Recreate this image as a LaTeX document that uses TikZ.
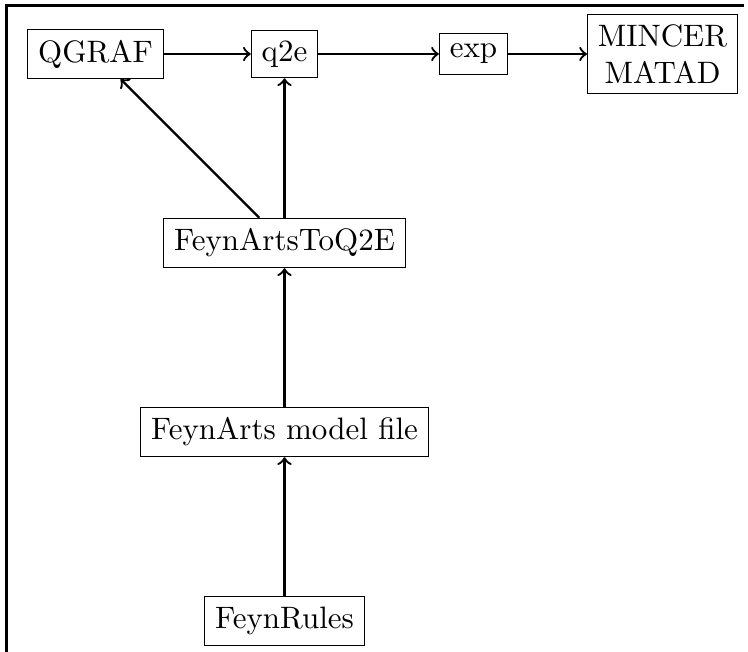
\documentclass[tikz,border=0pt]{standalone}
\usepackage{amsmath}
\usepackage{tikz}
\usetikzlibrary{arrows,positioning}

\begin{document}
\begin{tikzpicture}[->, auto, thick, node distance=2.143cm]
\tikzstyle{every node}=[draw=black,line width=0.4pt,text=black,fill=white]
\tikzstyle{every edge}=[draw,line width=0.75pt]
\useasboundingbox (0,0) rectangle (8.481,-7.392);
\draw[-,line width=1pt] (0.074,-7.5) -- (0.074,-0.062) -- (8.435,-0.062);
\node (Q)    at (1.083,-0.612) {QGRAF};
\node (Q2E)  [right of=Q]      {q2e};
\node (EXP)  [right of=Q2E]    {exp};
\node (MM)   [right of=EXP,align=center] {MINCER\\MATAD};
\node (FA2Q) [below of=Q2E]    {FeynArtsToQ2E};
\node (FAM)  [below of=FA2Q]   {FeynArts model file};
\node (FR)   [below of=FAM]    {FeynRules};

\path
(Q)    edge (Q2E)
(Q2E)  edge (EXP)
(EXP)  edge (MM)
(FA2Q) edge (Q)
(FA2Q) edge (Q2E)
(FAM)  edge (FA2Q)
(FR)   edge (FAM);
\end{tikzpicture}
\end{document}
